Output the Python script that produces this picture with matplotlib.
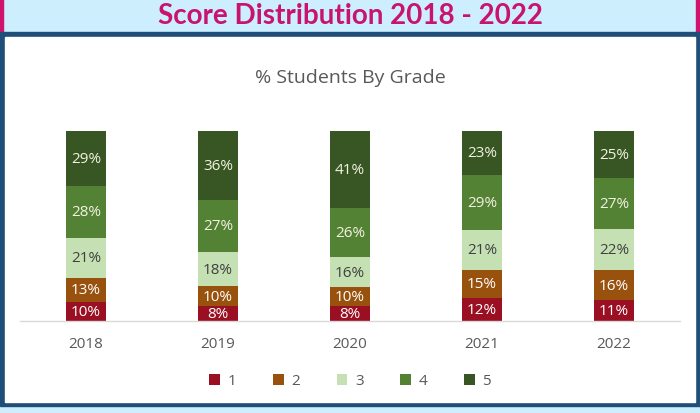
import matplotlib
matplotlib.use("Agg")
from matplotlib import pyplot as plt
from matplotlib.patches import Rectangle
import numpy as np

# data
years = ["2018", "2019", "2020", "2021", "2022"]
grades = ["1", "2", "3", "4", "5"]
grade1 = [10, 8, 8, 12, 11]
grade2 = [13, 10, 10, 15, 16]
grade3 = [21, 18, 16, 21, 22]
grade4 = [28, 27, 26, 29, 27]
grade5 = [29, 36, 41, 23, 25]

colors = ["#9a0f22", "#98520e", "#c5e0b3", "#548235", "#375623"]
label_colors = ["white", "white", "#404040", "#f2f2e0", "#f2f2e0"]

plt.rcParams['font.family'] = ['Open Sans', 'DejaVu Sans']

fig = plt.figure(figsize=(7, 4.14), dpi=100)

# background frame: light blue banner, pink side edges, dark blue box
W, H = 700.0, 414.0
def fr(x, y, w, h, c):
    fig.patches.append(Rectangle((x / W, 1 - (y + h) / H), w / W, h / H,
                                 transform=fig.transFigure, color=c, zorder=-10))

fr(0, 0, 700, 414, "#cdeffd")
fr(0, 0, 3, 34, "#d0146e")
fr(696, 0, 4, 34, "#d0146e")
fr(0, 33, 700, 374, "#1f4e79")
fr(5, 38, 690, 365, "white")

fig.text(0.5, 1 - 16 / H, "Score Distribution 2018 - 2022", ha="center", va="center",
         fontsize=20, fontweight="bold", color="#c8146e", family="Lato")

ax = fig.add_axes([20 / W, (414 - 322) / H, 660 / W, 190 / H])
ax.set_facecolor("none")
ax.set_zorder(5)

data = np.array([grade1, grade2, grade3, grade4, grade5], dtype=float)
shares = data / data.sum(axis=0) * 100
x = np.arange(len(years))
bottom = np.zeros(len(years))
for i, g in enumerate(grades):
    ax.bar(x, shares[i], 0.3, bottom=bottom, color=colors[i], label=g, zorder=2)
    for j in range(len(years)):
        ax.text(x[j], bottom[j] + shares[i][j] / 2, "%d%%" % data[i][j], ha="center",
                va="center", fontsize=11, color=label_colors[i], zorder=3)
    bottom += shares[i]

ax.set_xlim(-0.5, 4.5)
ax.set_ylim(0, 100)
for s in ["top", "right", "left"]:
    ax.spines[s].set_visible(False)
ax.spines["bottom"].set_color("#d9d9d9")
ax.spines["bottom"].set_linewidth(1)
ax.set_yticks([])
ax.set_xticks(x)
ax.set_xticklabels(years, fontsize=11, color="#595959")
ax.tick_params(axis="x", length=0, pad=11)

fig.text(0.5, 1 - 78 / H, "% Students By Grade", ha="center", va="center",
         fontsize=14, color="#595959")

leg = ax.legend(loc="center", bbox_to_anchor=(0.5, (322 - 382) / 190.0), ncol=5,
                frameon=False, fontsize=11, handlelength=0.7, handleheight=0.7,
                handletextpad=0.5, columnspacing=2.4, labelcolor="#595959")

fig.savefig("out.png", dpi=100)
